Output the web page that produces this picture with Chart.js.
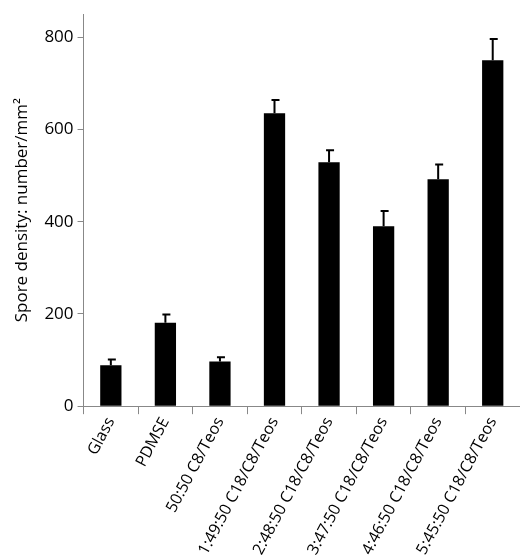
<!DOCTYPE html>
<html>
<head>
<meta charset="utf-8">
<script src="https://cdn.jsdelivr.net/npm/chart.js@4/dist/chart.umd.min.js"></script>
<style>
  html, body { margin: 0; padding: 0; background: #fff; }
  #wrap { width: 520px; height: 558px; }
</style>
</head>
<body>
<div id="wrap"><canvas id="chart"></canvas></div>
<script>
// data
const categories = ['Glass', 'PDMSE', '50:50 C8/Teos', '1:49:50 C18/C8/Teos', '2:48:50 C18/C8/Teos',
  '3:47:50 C18/C8/Teos', '4:46:50 C18/C8/Teos', '5:45:50 C18/C8/Teos'];
const density = [89, 181, 97, 635, 529, 390, 492, 750];
const errorTop = [101, 199, 106, 664, 555, 423, 524, 796];
const yTicks = [0, 200, 400, 600, 800];

// upper error bars drawn through the y scale
const errorBars = {
  id: 'errorBars',
  afterDatasetsDraw(chart) {
    const ctx = chart.ctx;
    const y = chart.scales.y;
    const meta = chart.getDatasetMeta(0);
    ctx.save();
    ctx.strokeStyle = '#000';
    ctx.lineWidth = 2;
    meta.data.forEach((bar, i) => {
      const yTop = y.getPixelForValue(errorTop[i]);
      const yBar = y.getPixelForValue(density[i]);
      ctx.beginPath();
      ctx.moveTo(bar.x, yBar);
      ctx.lineTo(bar.x, yTop);
      ctx.moveTo(bar.x - 3, yTop);
      ctx.lineTo(bar.x + 5, yTop);
      ctx.stroke();
    });
    ctx.restore();
  }
};

new Chart(document.getElementById('chart'), {
  type: 'bar',
  data: {
    labels: categories,
    datasets: [{
      data: density,
      backgroundColor: '#000',
      borderWidth: 0,
      categoryPercentage: 1,
      barPercentage: 0.39
    }]
  },
  options: {
    responsive: true,
    maintainAspectRatio: false,
    animation: false,
    layout: { padding: { top: 0, right: 0, left: 8, bottom: 0 } },
    plugins: { legend: { display: false }, tooltip: { enabled: false } },
    scales: {
      x: {
        grid: { offset: true, drawOnChartArea: false, tickLength: 8, color: '#888' },
        border: { color: '#888' },
        ticks: {
          color: '#000',
          font: { family: 'Open Sans', size: 16 },
          minRotation: 62, maxRotation: 62,
          autoSkip: false, padding: 0
        }
      },
      y: {
        min: 0, max: 850,
        afterBuildTicks(axis) { axis.ticks = yTicks.map(v => ({ value: v })); },
        grid: { drawOnChartArea: false, tickLength: 6, color: '#888' },
        border: { color: '#888' },
        ticks: { color: '#000', font: { family: 'Open Sans', size: 17 }, padding: 4 },
        title: {
          display: true,
          text: 'Spore density: number/mm²',
          color: '#000',
          font: { family: 'Open Sans', size: 17 },
          padding: { bottom: 8 }
        }
      }
    }
  },
  plugins: [errorBars]
});
</script>
</body>
</html>
